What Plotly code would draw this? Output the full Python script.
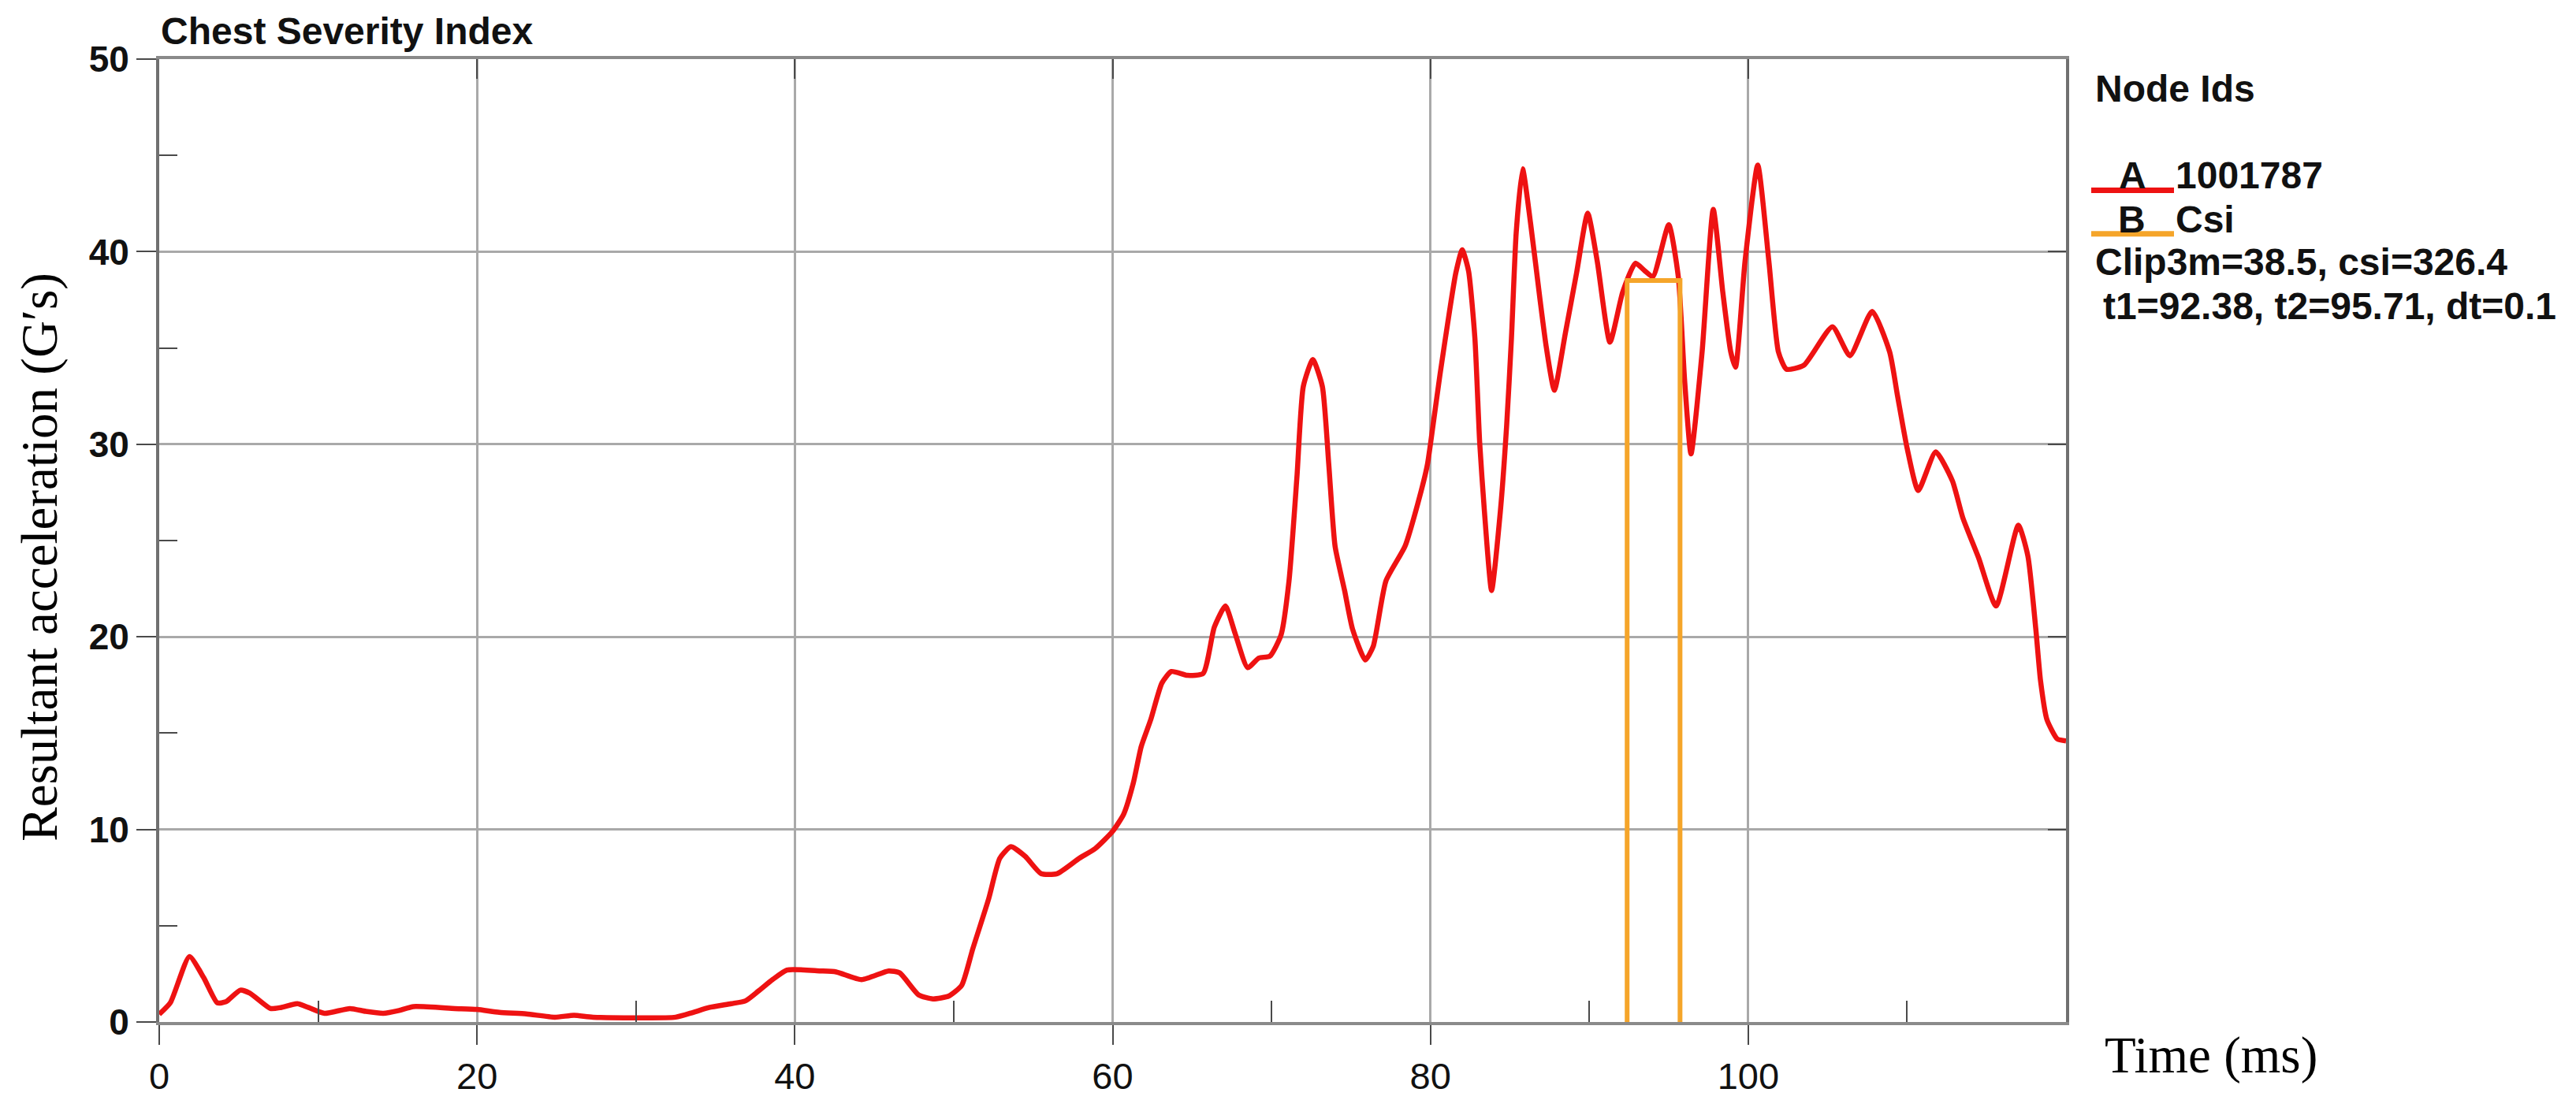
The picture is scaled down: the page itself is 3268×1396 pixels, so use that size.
import plotly.graph_objects as go

# ---------------- data ----------------
time_ms = [0.0, 0.7, 1.9, 2.8, 3.65, 4.2, 5.1, 5.7, 7.0, 7.65, 8.7, 9.4, 10.4, 12.0, 13.0, 14.1,
           15.1, 16.0, 18.6, 20.0, 21.4, 23.1, 24.9, 26.1, 27.3, 32.5, 33.6, 34.6, 36.0, 36.9,
           37.7, 38.6, 39.5, 41.6, 42.6, 44.2, 45.9, 46.6, 47.8, 48.7, 49.7, 50.5, 51.2, 52.2,
           52.9, 53.6, 54.5, 55.5, 56.5, 57.9, 58.9, 60.0, 60.7, 61.3, 61.8, 62.4, 63.1, 63.7,
           64.7, 65.7, 66.4, 67.1, 67.7, 68.5, 69.2, 69.9, 70.6, 71.1, 71.6, 72.0, 72.6, 73.2,
           73.6, 74.0, 74.6, 75.1, 75.9, 76.4, 77.2, 78.4, 79.2, 79.8, 80.2, 80.6, 81.2, 81.6,
           82.0, 82.4, 82.8, 83.1, 83.4, 83.85, 84.4, 84.8, 85.1, 85.4, 85.8, 86.3, 86.9, 87.3,
           87.8, 88.5, 89.2, 89.9, 90.5, 91.3, 92.1, 92.9, 93.5, 94.0, 95.0, 95.6, 96.0, 96.4,
           97.1, 97.8, 98.4, 98.9, 99.2, 99.8, 100.6, 101.3, 101.9, 102.4, 103.5, 105.3, 106.4,
           107.8, 108.9, 109.4, 110.0, 110.7, 111.8, 112.85, 113.5, 114.5, 115.6, 117.0, 117.6,
           118.1, 118.4, 118.8, 119.45, 120.0]
accel_g = [0.4, 1.0, 3.4, 2.3, 1.0, 1.05, 1.65, 1.5, 0.7, 0.75, 0.95, 0.75, 0.45, 0.7, 0.55, 0.45,
           0.6, 0.8, 0.7, 0.65, 0.5, 0.42, 0.25, 0.35, 0.25, 0.25, 0.5, 0.75, 0.95, 1.1,
           1.6, 2.2, 2.7, 2.65, 2.6, 2.2, 2.65, 2.55, 1.4, 1.2, 1.35, 1.9, 3.8, 6.4,
           8.5, 9.1, 8.6, 7.7, 7.7, 8.5, 9.0, 9.9, 10.8, 12.4, 14.3, 15.7, 17.6, 18.2,
           18.0, 18.1, 20.5, 21.6, 20.2, 18.4, 18.9, 19.0, 20.1, 22.9, 28.3, 33.0, 34.4, 33.0,
           29.0, 24.7, 22.4, 20.4, 18.8, 19.5, 22.9, 24.7, 26.9, 28.9, 31.2, 33.6, 36.9, 38.9,
           40.1, 39.0, 35.5, 30.1, 26.5, 22.4, 26.5, 31.0, 35.5, 41.0, 44.3, 41.5, 37.5, 35.0,
           32.8, 35.8, 38.9, 42.0, 39.5, 35.3, 37.9, 39.4, 39.0, 38.7, 41.4, 38.7, 33.3, 29.5,
           34.8, 42.2, 37.9, 34.8, 34.0, 39.5, 44.5, 39.5, 34.8, 33.9, 34.1, 36.1, 34.6,
           36.9, 34.8, 32.5, 29.8, 27.6, 29.6, 28.1, 26.2, 24.1, 21.6, 25.8, 24.2,
           20.4, 17.7, 15.7, 14.7, 14.6]

csi_t1, csi_t2, clip3m = 92.38, 95.71, 38.5
csi_t = [csi_t1, csi_t1, csi_t2, csi_t2]
csi_g = [0.0, clip3m, clip3m, 0.0]

x_major = [0, 20, 40, 60, 80, 100]
x_minor = [10, 30, 50, 70, 90, 110]
x_range = [0, 120]
y_range = [0, 50]

RED = "#EE1212"
ORANGE = "#F5A52A"
GRID = "#a9a9a9"
AXLINE = "#8a8a8a"
TICK = "#4a4a4a"
SANS = "Liberation Sans, Arial, sans-serif"
SERIF = "Liberation Serif, Times New Roman, serif"

# ---------------- geometry helpers (layout only) ----------------
W, H = 3268, 1396
L, R, T, B = 194, 2613, 67, 1307


def px(X):
    return (X - L) / (R - L)


def py(Y):
    return (B - Y) / (B - T)


fig = go.Figure()

fig.add_trace(go.Scatter(x=time_ms, y=accel_g, mode="lines",
                         line=dict(color=RED, width=6.5, shape="spline", smoothing=0.55),
                         name="A 1001787", hoverinfo="x+y"))
fig.add_trace(go.Scatter(x=csi_t, y=csi_g, mode="lines",
                         line=dict(color=ORANGE, width=6),
                         name="B Csi", hoverinfo="x+y"))
# invisible helper trace so the mirrored (inside-tick) axes are drawn
fig.add_trace(go.Scatter(x=time_ms, y=accel_g, mode="lines", xaxis="x2", yaxis="y2",
                         line=dict(width=0), opacity=0, hoverinfo="skip", showlegend=False))

fig.update_layout(
    width=W, height=H,
    margin=dict(l=L, r=W - R, t=T, b=H - B, pad=0),
    plot_bgcolor="white", paper_bgcolor="white",
    showlegend=False,
    xaxis=dict(range=x_range, tickmode="array", tickvals=x_major,
               ticks="outside", ticklen=25, tickwidth=2, tickcolor=TICK,
               showgrid=True, gridcolor=GRID, gridwidth=3,
               showline=True, linecolor=AXLINE, linewidth=4, mirror=True,
               zeroline=False,
               tickfont=dict(family=SANS, size=47, color="#111"),
               minor=dict(tickmode="array", tickvals=x_minor, ticks="inside",
                          ticklen=27, tickwidth=2, tickcolor=TICK, showgrid=False)),
    yaxis=dict(range=y_range, tickmode="linear", tick0=0, dtick=10,
               ticks="outside", ticklen=25, tickwidth=2, tickcolor=TICK,
               showgrid=True, gridcolor=GRID, gridwidth=3,
               showline=True, linecolor="#707070", linewidth=4, mirror=True,
               zeroline=False,
               tickfont=dict(family=SANS, size=46, color="#111", weight="bold"),
               minor=dict(tickmode="linear", tick0=5, dtick=10, ticks="inside",
                          ticklen=23, tickwidth=2, tickcolor=TICK, showgrid=False)),
    xaxis2=dict(range=x_range, overlaying="x", side="top", anchor="y",
                tickmode="array", tickvals=x_major[1:], ticks="inside", ticklen=25,
                tickwidth=2, tickcolor=TICK, showticklabels=False, showgrid=False,
                showline=False, zeroline=False),
    yaxis2=dict(range=y_range, overlaying="y", side="right", anchor="x",
                tickmode="linear", tick0=0, dtick=10, ticks="inside", ticklen=23,
                tickwidth=2, tickcolor=TICK, showticklabels=False, showgrid=False,
                showline=False, zeroline=False),
)

annotations = []
# title
annotations.append(dict(text="Chest Severity Index", xref="paper", yref="paper",
                        x=px(194), y=py(31), xanchor="left", yanchor="middle",
                        showarrow=False,
                        font=dict(family=SANS, size=48, color="#111", weight="bold")))
# axis titles
annotations.append(dict(text="Resultant acceleration (G\u2032s)", xref="paper", yref="paper",
                        x=px(42), y=py(708), xanchor="center", yanchor="middle",
                        textangle=-90, showarrow=False,
                        font=dict(family=SERIF, size=65, color="#000")))
annotations.append(dict(text="Time (ms)", xref="paper", yref="paper",
                        x=px(2797), y=py(1350), xanchor="center", yanchor="middle",
                        showarrow=False,
                        font=dict(family=SERIF, size=65, color="#000")))

# legend block
LEG = dict(family=SANS, size=48, color="#111", weight="bold")
legend_rows = [
    ("Node Ids", 2648, 105, "left"),
    ("A", 2697, 217, "center"),
    ("1001787", 2750, 217, "left"),
    ("B", 2696, 273, "center"),
    ("Csi", 2750, 273, "left"),
    ("Clip3m=38.5, csi=326.4", 2648, 328, "left"),
    ("t1=92.38, t2=95.71, dt=0.1", 2658, 385, "left"),
]
for txt, X, Y, anc in legend_rows:
    annotations.append(dict(text=txt, xref="paper", yref="paper", x=px(X), y=py(Y),
                            xanchor=anc, yanchor="middle", showarrow=False, font=LEG))
fig.update_layout(annotations=annotations)

fig.add_shape(type="line", xref="paper", yref="paper", x0=px(2645), x1=px(2750),
              y0=py(236), y1=py(236), line=dict(color=RED, width=7))
fig.add_shape(type="line", xref="paper", yref="paper", x0=px(2645), x1=px(2750),
              y0=py(292), y1=py(292), line=dict(color=ORANGE, width=7))

fig.write_html("out.html")
